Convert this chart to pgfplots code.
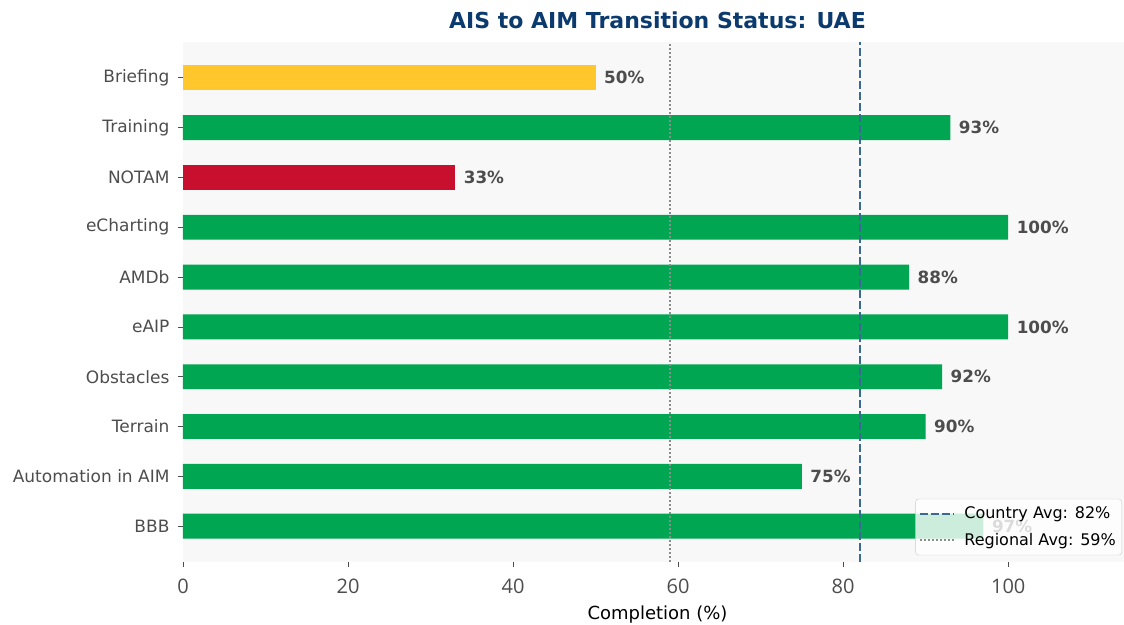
\documentclass[border=0pt]{standalone}
\usepackage{fontspec}
\setmainfont{DejaVu Sans}
\newfontfamily\tickfont{Open Sans}
\usepackage{pgfplots}
\pgfplotsset{compat=1.18}
\definecolor{okgreen}{HTML}{00A651}
\definecolor{warnyellow}{HTML}{FFC72C}
\definecolor{badred}{HTML}{C8102E}
\definecolor{navy}{HTML}{0B3A6E}
\definecolor{avgblue}{HTML}{3A6A94}
\definecolor{txtgray}{HTML}{4D4D4D}
\definecolor{bggray}{HTML}{F8F8F8}

\begin{document}
\begin{tikzpicture}
\begin{axis}[
    name=ax,
    scale only axis,
    width=949pt, height=520pt,
    bar width=0.5, bar shift=0pt,
    xmin=0, xmax=115,
    ymin=-0.72, ymax=9.72,
    ytick={0,...,9},
    yticklabels={BBB,Automation in AIM,Terrain,Obstacles,eAIP,AMDb,eCharting,NOTAM,Training,Briefing},
    xtick={0,20,40,60,80,100},
    xtick pos=bottom, ytick pos=left,
    tick align=outside, major tick length=5pt,
    tick style={txtgray, line width=0.8pt},
    axis line style={draw=none},
    axis background/.style={fill=bggray},
    yticklabel style={font=\fontsize{17}{20}\selectfont, text=txtgray, xshift=-5pt},
    xticklabel style={font=\tickfont\fontsize{20}{24}\selectfont, text=txtgray, yshift=-8pt},
    /pgf/number format/assume math mode=true,
    xlabel={Completion (\%)},
    xlabel style={font=\fontsize{18}{21}\selectfont, yshift=-6pt},
    title={AIS to AIM Transition Status: UAE},
    title style={font=\bfseries\fontsize{22}{26}\selectfont, text=navy, yshift=4pt},
    bar lbl/.style={xbar, nodes near coords={\pgfmathprintnumber[fixed,precision=0]{\pgfplotspointmeta}\%},
        nodes near coords style={font=\bfseries\fontsize{16.8}{20}\selectfont, text=txtgray, anchor=west, xshift=5pt}},
    legend style={at={(0.9895,0.013)}, anchor=south east, font=\fontsize{16}{19}\selectfont,
        fill=white, fill opacity=0.8, text opacity=1, draw=gray!40, rounded corners=3pt,
        row sep=9pt, inner xsep=4pt, inner ysep=6pt},
    legend cell align=left,
    legend image code/.code={\draw[#1] (0pt,0pt) -- (34pt,0pt); \path (41pt,0pt);},
]
% green bars
\addplot[bar lbl, fill=okgreen, draw=none, forget plot] coordinates {
    (97,0) (75,1) (90,2) (92,3) (100,4) (88,5) (100,6) (93,8)
};
% red bar
\addplot[bar lbl, fill=badred, draw=none, forget plot] coordinates {(33,7)};
% yellow bar
\addplot[bar lbl, fill=warnyellow, draw=none, forget plot] coordinates {(50,9)};
% averages
\addplot[sharp plot, avgblue, line width=1.8pt, dash pattern=on 7.5pt off 3.5pt, mark=none]
    coordinates {(82,-0.72) (82,9.72)};
\addlegendentry{Country Avg: 82\%}
\addplot[sharp plot, black!45, line width=1.5pt, dash pattern=on 1.5pt off 2.5pt, mark=none]
    coordinates {(59,-0.72) (59,9.72)};
\addlegendentry{Regional Avg: 59\%}
\end{axis}
\pgfresetboundingbox
\path[use as bounding box] ([xshift=-183pt,yshift=-63pt]ax.south west) rectangle ([xshift=-8pt,yshift=42pt]ax.north east);
\end{tikzpicture}
\end{document}
